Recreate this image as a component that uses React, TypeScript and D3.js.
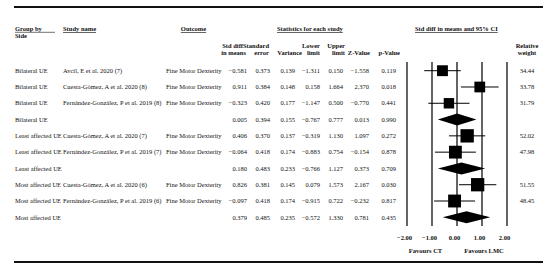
import React from "react";
import * as d3 from "d3";

const groupLabels = ["Bilateral UE", "Bilateral UE", "Bilateral UE", "Bilateral UE", "Least affected UE", "Least affected UE", "Least affected UE", "Most affected UE", "Most affected UE", "Most affected UE"];
const studyNames = ["Avcil, E et al. 2020 (7)", "Cuesta-Gómez, A et al. 2020 (8)", "Fernández-González, P et al. 2019 (8)", "", "Cuesta-Gómez, A et al. 2020 (7)", "Fernández-González, P et al. 2019 (7)", "", "Cuesta-Gómez, A et al. 2020 (6)", "Fernández-González, P et al. 2019 (6)", ""];
const outcomes = ["Fine Motor Dexterity", "Fine Motor Dexterity", "Fine Motor Dexterity", "", "Fine Motor Dexterity", "Fine Motor Dexterity", "", "Fine Motor Dexterity", "Fine Motor Dexterity", ""];
const isSummary = [false, false, false, true, false, false, true, false, false, true];
const stdDiff = [-0.581, 0.911, -0.323, 0.005, 0.406, -0.064, 0.180, 0.826, -0.097, 0.379];
const stdErr = [0.373, 0.384, 0.420, 0.394, 0.370, 0.418, 0.483, 0.381, 0.418, 0.485];
const variance = [0.139, 0.148, 0.177, 0.155, 0.137, 0.174, 0.233, 0.145, 0.174, 0.235];
const lowerLimit = [-1.311, 0.158, -1.147, -0.767, -0.319, -0.883, -0.766, 0.079, -0.915, -0.572];
const upperLimit = [0.150, 1.664, 0.500, 0.777, 1.130, 0.754, 1.127, 1.573, 0.722, 1.330];
const zValue = [-1.558, 2.370, -0.770, 0.013, 1.097, -0.154, 0.373, 2.167, -0.232, 0.781];
const pValue = [0.119, 0.018, 0.441, 0.990, 0.272, 0.878, 0.709, 0.030, 0.817, 0.435];
const relWeight = [34.44, 33.78, 31.79, null, 52.02, 47.98, null, 51.55, 48.45, null];
const axisTicks = [-2, -1, 0, 1, 2];
const favourLabels = ["Favours CT", "Favours LMC"];

const FONT = "'Liberation Serif', 'Times New Roman', serif";
const FS = 6.5;

const fmt = (v: number) => (v < 0 ? "\u2212" + Math.abs(v).toFixed(3) : v.toFixed(3));

export default function App() {
  const n = stdDiff.length;
  const x = d3.scaleLinear().domain([-2, 2]).range([407, 507]);
  const y = d3.scalePoint<number>().domain(d3.range(n)).range([70.7, 217.3]);
  const sq = d3.scaleSqrt().domain([0, 100]).range([0, 18.5]);
  const numCols = [stdDiff, stdErr, variance, lowerLimit, upperLimit, zValue, pValue];
  const numRight = [247, 270, 295, 320, 343, 369, 396];
  const bl = 2.2;
  const txt = { fontFamily: FONT, fontSize: FS, fill: "#111" } as const;
  const bold = { ...txt, fontWeight: 700 } as const;

  return (
    <svg width={550} height={270} style={{ position: "absolute", left: 0, top: 0, background: "#fff" }}>
      <rect width={550} height={270} fill="#fff" />
      <line x1={14} x2={543} y1={7} y2={7} stroke="#111" strokeWidth={2} />
      <line x1={14} x2={543} y1={262} y2={262} stroke="#111" strokeWidth={2} />

      {/* headers */}
      <text x={15} y={31} {...bold}>Group by</text>
      <line x1={15} x2={55} y1={32.3} y2={32.3} stroke="#111" strokeWidth={0.6} />
      <text x={15} y={37.5} {...bold}>Side</text>
      <text x={63} y={31} {...bold} textDecoration="underline">Study name</text>
      <text x={193.5} y={31} {...bold} textAnchor="middle" textDecoration="underline">Outcome</text>
      <text x={277} y={31} {...bold} textDecoration="underline">Statistics for each study</text>
      <text x={415} y={31} {...bold} textDecoration="underline">Std diff in means and 95% CI</text>

      <text x={243} y={47.5} {...bold} textAnchor="end">Std diff</text>
      <text x={246} y={54.5} {...bold} textAnchor="end">in means</text>
      <text x={243} y={47.5} {...bold}>Standard</text>
      <text x={269} y={54.5} {...bold} textAnchor="end">error</text>
      <text x={302} y={54.5} {...bold} textAnchor="end">Variance</text>
      <text x={320} y={47.5} {...bold} textAnchor="end">Lower</text>
      <text x={320} y={54.5} {...bold} textAnchor="end">limit</text>
      <text x={345} y={47.5} {...bold} textAnchor="end">Upper</text>
      <text x={345} y={54.5} {...bold} textAnchor="end">limit</text>
      <text x={370} y={54.5} {...bold} textAnchor="end">Z-Value</text>
      <text x={400} y={54.5} {...bold} textAnchor="end">p-Value</text>
      <text x={527} y={48} {...bold} textAnchor="middle">Relative</text>
      <text x={527} y={55} {...bold} textAnchor="middle">weight</text>

      {/* rows */}
      {d3.range(n).map((i) => {
        const yy = y(i)!;
        return (
          <g key={i}>
            <text x={15} y={yy + bl} {...txt}>{groupLabels[i]}</text>
            {studyNames[i] && <text x={63} y={yy + bl} {...txt}>{studyNames[i]}</text>}
            {outcomes[i] && <text x={166} y={yy + bl} {...txt}>{outcomes[i]}</text>}
            {numCols.map((col, c) => (
              <text key={c} x={numRight[c]} y={yy + bl} {...txt} textAnchor="end">{fmt(col[i])}</text>
            ))}
            {relWeight[i] != null && (
              <text x={527} y={yy + bl} {...txt} textAnchor="middle">{(relWeight[i] as number).toFixed(2)}</text>
            )}
          </g>
        );
      })}

      {/* plot frame lines */}
      {axisTicks.map((t) => (
        <line key={t} x1={x(t)} x2={x(t)} y1={62} y2={226} stroke="#111" strokeWidth={1.3} />
      ))}

      {/* marks */}
      {d3.range(n).map((i) => {
        const yy = y(i)!;
        if (isSummary[i]) {
          const pts = [
            [x(lowerLimit[i]), yy],
            [x(stdDiff[i]), yy - 6],
            [x(upperLimit[i]), yy],
            [x(stdDiff[i]), yy + 6],
          ];
          return <polygon key={i} points={pts.map((p) => p.join(",")).join(" ")} fill="#000" />;
        }
        const s = sq(relWeight[i] as number);
        return (
          <g key={i}>
            <line x1={x(lowerLimit[i])} x2={x(upperLimit[i])} y1={yy} y2={yy} stroke="#000" strokeWidth={1} />
            <rect x={x(stdDiff[i]) - s / 2} y={yy - s / 2} width={s} height={s} fill="#000" />
          </g>
        );
      })}

      {/* axis labels */}
      {axisTicks.map((t) => (
        <text key={t} x={x(t) - 2.5} y={240} {...bold} textAnchor="middle">
          {t < 0 ? "\u2212" + Math.abs(t).toFixed(2) : t.toFixed(2)}
        </text>
      ))}
      <text x={425.5} y={253} {...bold} textAnchor="middle">{favourLabels[0]}</text>
      <text x={484} y={253} {...bold} textAnchor="middle">{favourLabels[1]}</text>
    </svg>
  );
}
